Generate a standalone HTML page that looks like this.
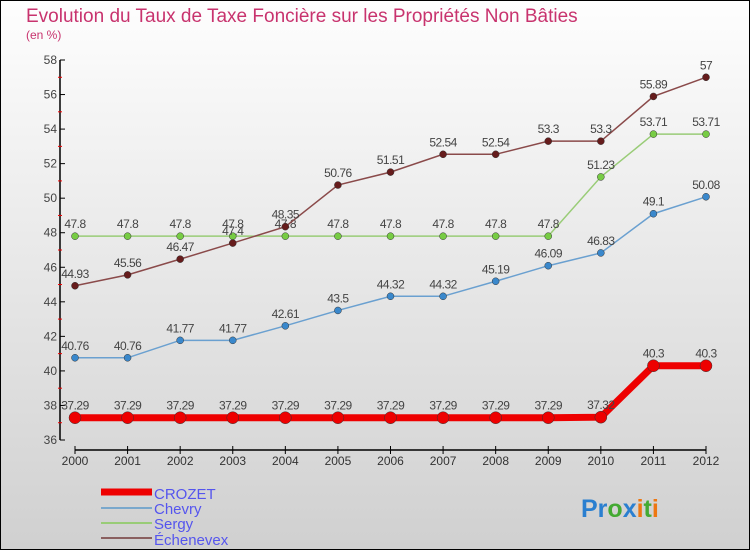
<!DOCTYPE html>
<html><head><meta charset="utf-8"><style>
body{margin:0;width:750px;height:550px;overflow:hidden}
svg{display:block;font-family:"Liberation Sans",sans-serif}
</style></head><body>
<svg width="750" height="550">
<defs><linearGradient id="bg" x1="0" y1="0" x2="0" y2="1"><stop offset="0" stop-color="#fefefe"/><stop offset="1" stop-color="#d0d0d0"/></linearGradient></defs>
<rect x="0" y="0" width="750" height="550" fill="url(#bg)" stroke="#000" stroke-width="2"/>
<text x="26" y="22" font-size="19" fill="#c8336e">Evolution du Taux de Taxe Foncière sur les Propriétés Non Bâties</text>
<text x="26" y="39" font-size="12" fill="#c8336e">(en %)</text>
<g id="axes"></g><g id="series"></g>
<g>
<line x1="101" y1="492" x2="152" y2="492" stroke="#ee0000" stroke-width="7"/>
<text x="154" y="499" font-size="15" fill="#5555ee">CROZET</text>
<line x1="101" y1="508" x2="152" y2="508" stroke="#7aa8cc" stroke-width="2"/>
<text x="154" y="514" font-size="15" fill="#5555ee">Chevry</text>
<line x1="101" y1="523" x2="152" y2="523" stroke="#99cc77" stroke-width="2"/>
<text x="154" y="529" font-size="15" fill="#5555ee">Sergy</text>
<line x1="101" y1="538" x2="152" y2="538" stroke="#8a6060" stroke-width="2"/>
<text x="154" y="545" font-size="15" fill="#5555ee">Échenevex</text>
</g>
<text x="581" y="517" font-size="25" font-weight="bold"><tspan fill="#2a7fd0">Pr</tspan><tspan fill="#44aa33">o</tspan><tspan fill="#2a7fd0">x</tspan><tspan fill="#ee7711">i</tspan><tspan fill="#44aa33">t</tspan><tspan fill="#ee7711">i</tspan></text>
</svg>
<script>
const years=[2000,2001,2002,2003,2004,2005,2006,2007,2008,2009,2010,2011,2012];
const crozet=[37.29,37.29,37.29,37.29,37.29,37.29,37.29,37.29,37.29,37.29,37.32,40.3,40.3];
const chevry=[40.76,40.76,41.77,41.77,42.61,43.5,44.32,44.32,45.19,46.09,46.83,49.1,50.08];
const sergy=[47.8,47.8,47.8,47.8,47.8,47.8,47.8,47.8,47.8,47.8,51.23,53.71,53.71];
const echenevex=[44.93,45.56,46.47,47.4,48.35,50.76,51.51,52.54,52.54,53.3,53.3,55.89,57];
const yTicks=[36,38,40,42,44,46,48,50,52,54,56,58];
const NS="http://www.w3.org/2000/svg";
const x=i=>75+i*(706-75)/(years.length-1);
const y=v=>440-(v-36)*380/22;
function mk(t,a,p){const e=document.createElementNS(NS,t);for(const k in a)e.setAttribute(k,a[k]);p.appendChild(e);return e;}
const ax=document.getElementById('axes');
let e=mk('line',{x1:60,y1:60,x2:60,y2:440,stroke:'#000','stroke-width':1.5},ax);


e=mk('line',{x1:75,y1:450,x2:706,y2:450,stroke:'#000','stroke-width':1.5},ax);


yTicks.forEach((v,i)=>{
 mk('line',{x1:60,y1:y(v),x2:65,y2:y(v),stroke:'#000'},ax);
 if(i<yTicks.length-1)mk('line',{x1:58,y1:y(v+1),x2:62,y2:y(v+1),stroke:'#e00'},ax);
 const t=mk('text',{x:57,y:y(v)+4,'font-size':12,fill:'#444','text-anchor':'end'},ax);t.textContent=v;
 
 
});
years.forEach((yr,i)=>{
 mk('line',{x1:x(i),y1:446,x2:x(i),y2:454,stroke:'#000'},ax);
 const t=mk('text',{x:x(i),y:465,'font-size':12,fill:'#333','text-anchor':'middle'},ax);t.textContent=yr;
 
 
});
const sg=document.getElementById('series');
function draw(data,name,color,w,r,dot){
 const g=mk('g',{},sg);
 
 
 const p=mk('polyline',{points:data.map((v,i)=>x(i)+','+y(v)).join(' '),fill:'none',stroke:color,'stroke-width':w},g);
 
 
 data.forEach((v,i)=>{
  const c=mk('circle',{cx:x(i),cy:y(v),r:r,fill:dot,stroke:'#333','stroke-width':0.5},g);
  
  
  const t=mk('text',{x:x(i),y:y(v)-8,'font-size':12,fill:'#444','text-anchor':'middle','letter-spacing':'-0.5'},g);t.textContent=v;
  
  
 });
}
draw(sergy,'sergy','#99cc77',1.5,3.5,'#77cc44');
draw(chevry,'chevry','#6aa0d0',1.5,3.5,'#3a88cc');
draw(echenevex,'echenevex','#8a4a4a',1.5,3.5,'#661c1c');
draw(crozet,'crozet','#ee0000',7,6,'#ee0000');
</script>
</body></html>
